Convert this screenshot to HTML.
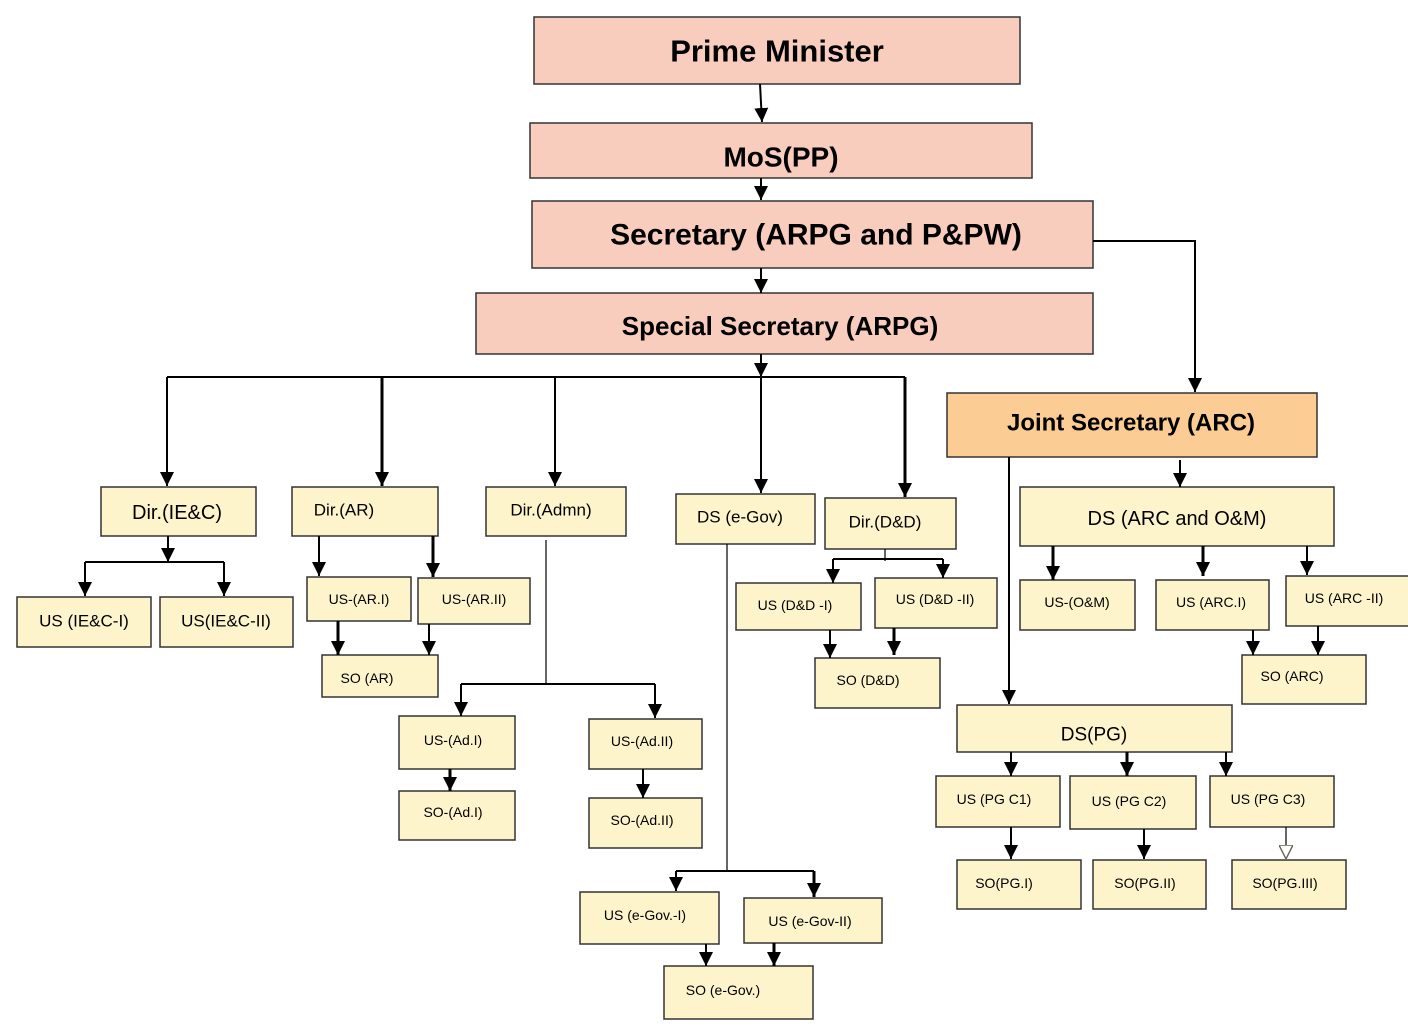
<!DOCTYPE html>
<html><head><meta charset="utf-8"><style>
html,body{margin:0;padding:0;background:#fff;}
svg{display:block;}
text{font-family:"Liberation Sans",sans-serif;text-anchor:middle;dominant-baseline:central;fill:#000;}
.p{fill:#f9cdbd;stroke:#333;stroke-width:1.5}
.o{fill:#fbcd94;stroke:#333;stroke-width:1.5}
.y{fill:#fdf4cc;stroke:#333;stroke-width:1.5}
.l{stroke:#000;stroke-width:2;fill:none}
.t{stroke:#000;stroke-width:3;fill:none}
.n{stroke:#000;stroke-width:1.2;fill:none}
</style></head><body>
<svg width="1408" height="1030" viewBox="0 0 1408 1030" xmlns="http://www.w3.org/2000/svg">
<defs>
<marker id="a" viewBox="0 0 10 10" refX="10" refY="5" markerWidth="14" markerHeight="14" markerUnits="userSpaceOnUse" orient="auto"><path d="M0,0L10,5L0,10z" fill="#000"/></marker>
<marker id="h" viewBox="0 0 10 10" refX="10" refY="5" markerWidth="14" markerHeight="14" markerUnits="userSpaceOnUse" orient="auto"><path d="M0,0L10,5L0,10z" fill="#fff" stroke="#665" stroke-width="1"/></marker>
</defs>
<!-- boxes -->
<rect class="p" x="534" y="17" width="486" height="67"/><text x="777" y="51" font-size="31" font-weight="bold">Prime Minister</text>
<rect class="p" x="530" y="123" width="502" height="55"/><text x="781" y="157" font-size="28" font-weight="bold">MoS(PP)</text>
<rect class="p" x="532" y="201" width="561" height="67"/><text x="816" y="235" font-size="30" font-weight="bold">Secretary (ARPG and P&amp;PW)</text>
<rect class="p" x="476" y="293" width="617" height="61"/><text x="780" y="326" font-size="26" font-weight="bold">Special Secretary (ARPG)</text>
<rect class="o" x="947" y="393" width="370" height="64"/><text x="1131" y="423" font-size="24" font-weight="bold">Joint Secretary (ARC)</text>
<g font-size="18">
<rect class="y" x="101" y="487" width="155" height="49"/><text x="177" y="513" font-size="20">Dir.(IE&amp;C)</text>
<rect class="y" x="292" y="487" width="146" height="49"/><text x="344" y="510" font-size="17">Dir.(AR)</text>
<rect class="y" x="486" y="487" width="140" height="49"/><text x="551" y="510" font-size="17">Dir.(Admn)</text>
<rect class="y" x="676" y="494" width="139" height="50"/><text x="740" y="517" font-size="17">DS (e-Gov)</text>
<rect class="y" x="825" y="498" width="131" height="51"/><text x="885" y="522" font-size="17">Dir.(D&amp;D)</text>
<rect class="y" x="1020" y="487" width="314" height="59"/><text x="1177" y="519" font-size="20">DS (ARC  and O&amp;M)</text>
</g>
<g font-size="17">
<rect class="y" x="17" y="597" width="134" height="50"/><text x="84" y="621">US (IE&amp;C-I)</text>
<rect class="y" x="160" y="597" width="133" height="50"/><text x="226" y="621">US(IE&amp;C-II)</text>
</g>
<g font-size="14">
<rect class="y" x="307" y="577" width="104" height="44"/><text x="359" y="599">US-(AR.I)</text>
<rect class="y" x="418" y="578" width="112" height="46"/><text x="474" y="599">US-(AR.II)</text>
<rect class="y" x="322" y="655" width="116" height="42"/><text x="367" y="678">SO (AR)</text>
<rect class="y" x="399" y="716" width="116" height="53"/><text x="453" y="740">US-(Ad.I)</text>
<rect class="y" x="589" y="719" width="113" height="50"/><text x="642" y="741">US-(Ad.II)</text>
<rect class="y" x="399" y="791" width="116" height="49"/><text x="453" y="812">SO-(Ad.I)</text>
<rect class="y" x="589" y="798" width="113" height="50"/><text x="642" y="820">SO-(Ad.II)</text>
<rect class="y" x="580" y="892" width="139" height="52"/><text x="645" y="915">US (e-Gov.-I)</text>
<rect class="y" x="744" y="898" width="138" height="45"/><text x="810" y="921">US (e-Gov-II)</text>
<rect class="y" x="664" y="966" width="149" height="53"/><text x="723" y="990">SO (e-Gov.)</text>
<rect class="y" x="736" y="583" width="125" height="47"/><text x="795" y="605">US (D&amp;D -I)</text>
<rect class="y" x="875" y="578" width="122" height="50"/><text x="935" y="599">US (D&amp;D -II)</text>
<rect class="y" x="815" y="658" width="125" height="50"/><text x="868" y="680">SO (D&amp;D)</text>
<rect class="y" x="1020" y="580" width="115" height="50"/><text x="1077" y="602">US-(O&amp;M)</text>
<rect class="y" x="1156" y="580" width="113" height="50"/><text x="1211" y="602">US (ARC.I)</text>
<rect class="y" x="1286" y="576" width="125" height="50"/><text x="1344" y="598">US (ARC -II)</text>
<rect class="y" x="1242" y="655" width="124" height="49"/><text x="1292" y="676">SO (ARC)</text>
<rect class="y" x="957" y="705" width="275" height="47"/><text x="1094" y="735" font-size="19">DS(PG)</text>
<rect class="y" x="936" y="776" width="124" height="51"/><text x="994" y="799">US (PG C1)</text>
<rect class="y" x="1070" y="776" width="126" height="53"/><text x="1129" y="801">US (PG  C2)</text>
<rect class="y" x="1210" y="776" width="124" height="51"/><text x="1268" y="799">US (PG C3)</text>
<rect class="y" x="957" y="860" width="124" height="49"/><text x="1004" y="883">SO(PG.I)</text>
<rect class="y" x="1093" y="860" width="113" height="49"/><text x="1145" y="883">SO(PG.II)</text>
<rect class="y" x="1232" y="860" width="114" height="49"/><text x="1285" y="883">SO(PG.III)</text>
</g>
<!-- connectors -->
<path class="l" d="M760,84L762,122" marker-end="url(#a)"/>
<path class="l" d="M761,178L761,200" marker-end="url(#a)"/>
<path class="l" d="M761,268L761,293" marker-end="url(#a)"/>
<path class="l" d="M1093,241H1195V392" marker-end="url(#a)"/>
<path class="l" d="M761,354V377" marker-end="url(#a)"/>
<path class="l" d="M167,377H905"/>
<path class="l" d="M167,377V486" marker-end="url(#a)"/>
<path class="t" d="M382,377V486" marker-end="url(#a)"/>
<path class="l" d="M555,377V486" marker-end="url(#a)"/>
<path class="l" d="M761,377V493" marker-end="url(#a)"/>
<path class="t" d="M905,377V497" marker-end="url(#a)"/>
<path class="l" d="M1180,460V487" marker-end="url(#a)"/>
<path class="l" d="M1009,457V704" marker-end="url(#a)"/>
<path class="l" d="M168,536V562" marker-end="url(#a)"/>
<path class="l" d="M85,562H224"/>
<path class="l" d="M85,562V596" marker-end="url(#a)"/>
<path class="l" d="M224,562V596" marker-end="url(#a)"/>
<path class="l" d="M319,536V576" marker-end="url(#a)"/>
<path class="t" d="M433,536V577" marker-end="url(#a)"/>
<path class="t" d="M338,621V655" marker-end="url(#a)"/>
<path class="l" d="M429,624V655" marker-end="url(#a)"/>
<path class="n" d="M546,540V684"/>
<path class="l" d="M461,684H655"/>
<path class="l" d="M461,684V716" marker-end="url(#a)"/>
<path class="l" d="M655,684V718" marker-end="url(#a)"/>
<path class="t" d="M450,769V791" marker-end="url(#a)"/>
<path class="l" d="M643,769V798" marker-end="url(#a)"/>
<path class="n" d="M727,544V871"/>
<path class="l" d="M676,871H814"/>
<path class="l" d="M676,871V891" marker-end="url(#a)"/>
<path class="t" d="M814,871V897" marker-end="url(#a)"/>
<path class="l" d="M706,944V966" marker-end="url(#a)"/>
<path class="t" d="M774,943V966" marker-end="url(#a)"/>
<path class="n" d="M885,549V561"/>
<path class="l" d="M833,559H943"/>
<path class="l" d="M833,559V583" marker-end="url(#a)"/>
<path class="l" d="M943,559V578" marker-end="url(#a)"/>
<path class="l" d="M830,630V658" marker-end="url(#a)"/>
<path class="t" d="M894,628V655" marker-end="url(#a)"/>
<path class="t" d="M1053,546V580" marker-end="url(#a)"/>
<path class="t" d="M1203,546V576" marker-end="url(#a)"/>
<path class="l" d="M1307,546V575" marker-end="url(#a)"/>
<path class="l" d="M1253,630V655" marker-end="url(#a)"/>
<path class="l" d="M1318,626V655" marker-end="url(#a)"/>
<path class="l" d="M1011,752V776" marker-end="url(#a)"/>
<path class="t" d="M1127,752V776" marker-end="url(#a)"/>
<path class="l" d="M1226,752V776" marker-end="url(#a)"/>
<path class="l" d="M1011,827V859" marker-end="url(#a)"/>
<path class="l" d="M1144,829V859" marker-end="url(#a)"/>
<path class="n" d="M1286,827V859" stroke="#665" marker-end="url(#h)"/>
</svg>
</body></html>
